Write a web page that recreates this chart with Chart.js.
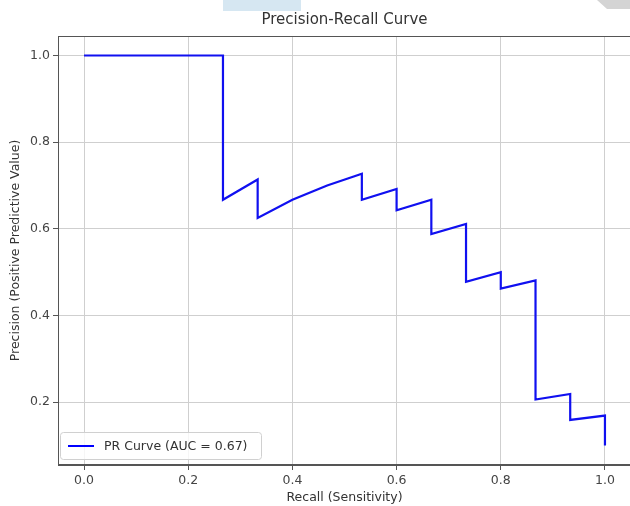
<!DOCTYPE html>
<html><head><meta charset="utf-8">
<script src="https://cdn.jsdelivr.net/npm/chart.js@4/dist/chart.umd.min.js"></script>
<style>
html,body{margin:0;padding:0;background:#fff;overflow:hidden;width:630px;height:506px}
#wrap{width:631px;height:506px}
canvas{display:block}
</style></head>
<body><div id="wrap"><canvas id="c" width="631" height="506"></canvas></div>
<script>
const chartTitle = 'Precision-Recall Curve';
const xTitle = 'Recall (Sensitivity)';
const yTitle = 'Precision (Positive Predictive Value)';
const seriesLabel = 'PR Curve (AUC = 0.67)';
const xTicks = [0.0, 0.2, 0.4, 0.6, 0.8, 1.0];
const yTicks = [0.2, 0.4, 0.6, 0.8, 1.0];
const recall = [0.0, 0.0667, 0.1333, 0.2, 0.2667, 0.2667, 0.3333, 0.3333, 0.4, 0.4667, 0.5333, 0.5333, 0.6, 0.6, 0.6667, 0.6667, 0.7333, 0.7333, 0.8, 0.8, 0.8667, 0.8667, 0.9333, 0.9333, 1.0, 1.0];
const precision = [1.0, 1.0, 1.0, 1.0, 1.0, 0.667, 0.714, 0.625, 0.667, 0.7, 0.727, 0.667, 0.692, 0.643, 0.667, 0.588, 0.611, 0.478, 0.5, 0.462, 0.481, 0.206, 0.219, 0.159, 0.169, 0.1];

const FONT = "'DejaVu Sans', sans-serif";
const points = recall.map((r, i) => ({x: r, y: precision[i]}));

const framePlugin = {
  id: 'frame',
  beforeDraw(chart) {
    const ctx = chart.ctx;
    ctx.save();
    ctx.fillStyle = '#d6e7f2';
    ctx.fillRect(223, 0, 78, 11);
    ctx.fillStyle = '#d4d4d4';
    ctx.beginPath();
    ctx.moveTo(597, 0); ctx.lineTo(631, 0); ctx.lineTo(631, 9); ctx.lineTo(607, 9); ctx.closePath();
    ctx.fill();
    ctx.restore();
  },
  afterDatasetsDraw(chart) {
    const {ctx, chartArea: a} = chart;
    ctx.save();
    ctx.strokeStyle = '#555';
    ctx.lineWidth = 1;
    ctx.strokeRect(a.left + 0.5, a.top + 0.5, a.right - a.left - 1, a.bottom - a.top - 1);
    // title centred over the plot area
    ctx.fillStyle = '#333';
    ctx.font = '15px ' + FONT;
    ctx.textAlign = 'center';
    ctx.textBaseline = 'middle';
    ctx.fillText(chartTitle, (a.left + a.right) / 2, 20);
    // legend
    const bx = 60.5, by = 432.5, bw = 201, bh = 27, r = 3;
    ctx.fillStyle = 'rgba(255,255,255,0.8)';
    ctx.strokeStyle = '#d0d0d0';
    ctx.beginPath();
    ctx.roundRect(bx, by, bw, bh, r);
    ctx.fill(); ctx.stroke();
    ctx.strokeStyle = 'blue';
    ctx.lineWidth = 2;
    ctx.beginPath(); ctx.moveTo(68, 446); ctx.lineTo(94, 446); ctx.stroke();
    ctx.fillStyle = '#333';
    ctx.font = '12.5px ' + FONT;
    ctx.textBaseline = 'middle';
    ctx.textAlign = 'left';
    ctx.fillText(chart.data.datasets[0].label, 104, 446.5);
    ctx.restore();
  }
};

new Chart(document.getElementById('c'), {
  type: 'scatter',
  data: {datasets: [{
    label: seriesLabel,
    data: points,
    showLine: true,
    borderColor: '#1010f0',
    backgroundColor: 'blue',
    borderWidth: 2.2,
    pointRadius: 0,
    tension: 0
  }]},
  options: {
    responsive: false,
    animation: false,
    devicePixelRatio: 1,
    layout: {padding: {top: 36, left: 0, right: 0, bottom: 0}},
    plugins: {
      legend: {display: false},
      tooltip: {enabled: false},
      title: {display: false}
    },
    scales: {
      x: {
        type: 'linear', min: -0.05, max: 1.05,
        afterBuildTicks: s => { s.ticks = xTicks.map(v => ({value: v})); },
        afterFit: s => { s.height = 41; },
        grid: {color: '#cfcfcf', tickColor: '#555', tickLength: 5, lineWidth: 1},
        border: {color: '#555'},
        ticks: {color: '#444', font: {family: FONT, size: 12.5}, padding: 3, maxRotation: 0,
          callback: v => v.toFixed(1)},
        title: {display: true, text: xTitle, color: '#333', font: {family: FONT, size: 12.5}, padding: {top: 0, bottom: 1}}
      },
      y: {
        type: 'linear', min: 0.055, max: 1.045,
        afterBuildTicks: s => { s.ticks = yTicks.map(v => ({value: v})); },
        afterFit: s => { s.width = 58; },
        grid: {color: '#cfcfcf', tickColor: '#555', tickLength: 5, lineWidth: 1},
        border: {color: '#555'},
        ticks: {color: '#444', font: {family: FONT, size: 12.5}, padding: 3,
          callback: v => v.toFixed(1)},
        title: {display: true, text: yTitle, color: '#333', font: {family: FONT, size: 12.5}, padding: {top: 8.5, bottom: 0}}
      }
    }
  },
  plugins: [framePlugin]
});
</script>
</body></html>
